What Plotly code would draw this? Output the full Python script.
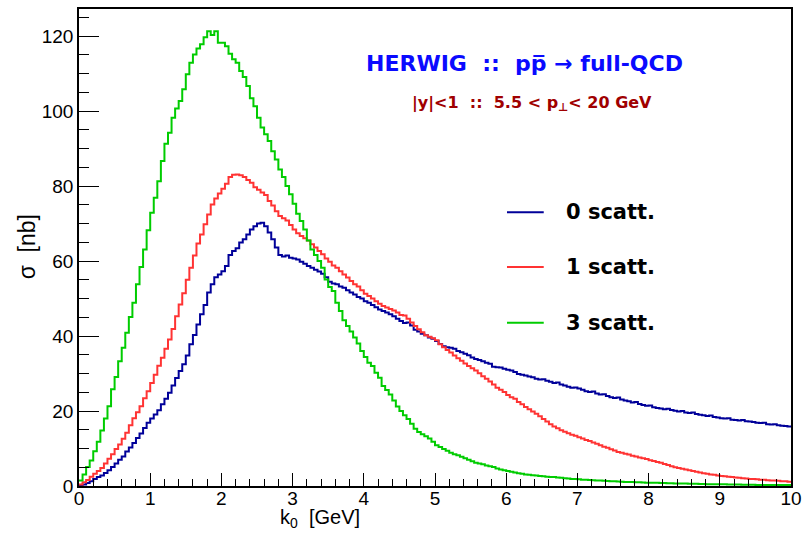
import numpy as np
import plotly.graph_objects as go

# ---------------- data ----------------
X_MIN, X_MAX, N_BINS = 0.0, 10.0, 200

blue_0scatt = [
    0.2, 0.4, 0.8, 1.3, 1.9, 2.4, 2.8, 3.5, 4.2, 5.1,
    6.0, 7.0, 7.9, 9.2, 10.3, 11.5, 12.8, 14.0, 15.5, 16.9,
    18.0, 19.1, 20.2, 21.8, 23.3, 24.9, 26.8, 28.8, 30.7, 32.5,
    34.8, 37.8, 40.3, 43.1, 45.8, 48.3, 51.6, 53.8, 55.7, 56.4,
    57.3, 58.7, 61.6, 62.7,
    63.4, 64.9, 65.8, 67.1, 68.4, 69.3, 70.0, 70.2, 69.3, 67.6,
    65.8, 63.6, 61.6, 61.2, 61.5, 60.9, 60.7, 60.4, 59.8, 59.3,
    58.7, 58.2, 57.7, 57.2, 56.6, 55.7, 54.5, 54.0, 53.8, 53.2,
    52.9, 52.2, 51.6, 51.1, 50.4, 50.0, 49.3, 48.9, 48.3, 47.7,
    47.1, 46.7,
    46.3, 45.8, 45.3, 44.6, 44.0, 43.5, 43.6, 42.8, 41.7, 41.2,
    40.6, 40.2, 39.6, 39.3, 38.7, 37.9, 37.3, 37.0, 36.9, 36.6,
    36.0, 35.7, 35.3, 34.9, 34.3, 33.9, 33.6, 33.3, 32.9, 32.6,
    31.8, 31.7, 31.6, 31.3, 31.0, 30.8, 30.4, 29.9, 29.7, 29.5,
    29.2, 29.0, 28.6,
    28.4, 28.5, 28.1, 27.8, 27.5, 27.6, 27.1, 26.8, 26.5, 26.2,
    26.3, 26.0, 25.7, 25.3, 25.1, 25.2, 24.7, 24.4, 24.5, 24.0,
    23.7, 23.5, 23.6, 23.1, 22.8, 22.6, 22.3, 22.4, 21.9, 21.6,
    21.4, 21.5, 21.0,
    20.8, 20.7, 20.5, 20.6, 20.3, 20.1, 19.9, 20.0, 19.6, 19.5,
    19.6, 19.2, 19.0, 18.9, 18.7, 18.8, 18.4, 18.3, 18.1, 18.0,
    18.1, 17.7, 17.6, 17.5, 17.6, 17.3, 17.2, 17.1, 16.9, 16.8,
    16.9, 16.5, 16.4, 16.5, 16.2, 16.1, 16.0, 15.9,
]

red_1scatt = [
    0.4, 1.0, 1.6, 2.5, 3.3, 4.0, 4.8, 6.0, 7.3, 8.5,
    9.9, 11.1, 12.6, 14.2, 16.2, 18.1, 19.7, 21.3, 23.4, 25.3,
    27.5, 29.7, 32.1, 34.2, 36.6, 39.1, 41.9, 45.3, 48.4, 51.4,
    55.0, 58.2, 61.5, 64.7, 67.1, 69.8, 72.4, 75.1, 76.7, 78.0,
    79.3, 80.6, 82.4, 83.0,
    83.1, 82.9, 82.4, 81.6, 80.9, 79.7, 79.0, 78.3, 77.6, 76.0,
    74.8, 73.3, 72.0, 71.4, 70.8, 69.6, 68.4, 67.4, 66.7, 66.1,
    65.5, 64.5, 63.6, 62.7, 61.8, 60.7, 59.8, 58.8, 58.2, 57.3,
    56.4, 55.6, 54.7, 53.8, 53.2, 52.2, 51.3, 50.7, 50.0, 49.3,
    48.6, 48.0,
    47.6, 47.2, 46.8, 46.3, 45.6, 45.5, 44.6, 43.6, 42.7, 41.8,
    41.0, 40.2, 39.8, 39.4, 38.9, 37.8, 37.0, 36.3, 35.6, 34.8,
    34.1, 33.4, 32.7, 32.0, 31.4, 30.8, 30.1, 29.3, 28.6, 27.9,
    27.1, 26.2, 25.7, 25.1, 24.3, 23.7, 23.3, 22.4, 21.8, 21.1,
    20.5, 19.9, 19.3,
    18.6, 17.9, 17.2, 16.5, 15.9, 15.4, 14.9, 14.5, 14.1, 13.7,
    13.4, 13.0, 12.7, 12.3, 12.0, 11.6, 11.3, 10.9, 10.5, 10.2,
    9.8, 9.5, 9.1, 8.9, 8.6, 8.4, 8.1, 7.9, 7.6, 7.4,
    7.2, 6.9, 6.7,
    6.4, 6.2, 5.9, 5.6, 5.3, 5.0, 4.8, 4.6, 4.4, 4.2,
    4.0, 3.8, 3.6, 3.4, 3.3, 3.1, 3.0, 2.8, 2.7, 2.6,
    2.5, 2.4, 2.3, 2.2, 2.1, 2.0, 1.9, 1.85, 1.8, 1.7,
    1.65, 1.55, 1.5, 1.45, 1.4, 1.3, 1.25, 1.15,
]

green_3scatt = [
    1.5, 3.1, 5.1, 6.8, 9.3, 11.8, 14.8, 18.0, 21.3, 25.8,
    29.1, 33.3, 36.9, 40.9, 45.1, 48.9, 53.8, 58.4, 63.1, 68.2,
    72.9, 76.9, 81.3, 86.7, 91.3, 94.2, 98.2, 100.7, 102.7, 105.8,
    109.8, 112.9, 115.1, 116.7, 117.8, 119.7, 121.3, 120.3, 121.3, 118.2,
    118.2, 117.3, 115.3, 113.8,
    112.9, 110.7, 109.1, 106.7, 103.4, 101.3, 98.2, 95.6, 93.8, 92.0,
    89.3, 87.1, 84.4, 82.4, 80.0, 77.8, 75.3, 72.6, 70.7, 68.4,
    65.5, 63.1, 61.6, 60.0, 58.2, 55.1, 53.1, 52.0, 48.9, 46.7,
    44.2, 42.7, 41.2, 39.6, 38.0, 36.0, 34.4, 32.9, 32.0, 30.2,
    28.9, 26.7,
    25.6, 24.4, 22.8, 21.2, 20.0, 18.9, 17.9, 16.6, 15.3, 14.4,
    13.8, 13.3, 12.7, 11.8, 10.9, 10.4, 9.9, 9.4, 8.9, 8.5,
    8.2, 7.8, 7.4, 7.0, 6.6, 6.2, 6.0, 5.8, 5.5, 5.3,
    5.1, 4.7, 4.4, 4.2, 4.0, 3.8, 3.6, 3.4, 3.3, 3.1,
    3.0, 2.9, 2.8,
    2.7, 2.6, 2.5, 2.4, 2.4, 2.3, 2.2, 2.1, 2.0, 1.9,
    1.9, 1.8, 1.7, 1.7, 1.6, 1.55, 1.5, 1.45, 1.4, 1.35,
    1.3, 1.25, 1.2, 1.15, 1.1, 1.1, 1.05, 1.0, 1.0, 0.95,
    0.9,
    0.9, 0.85, 0.85, 0.8, 0.8, 0.75, 0.75, 0.7, 0.7, 0.65,
    0.65, 0.6, 0.6, 0.6, 0.55, 0.55, 0.5, 0.5, 0.5, 0.45,
    0.45, 0.45, 0.4, 0.4, 0.4, 0.4, 0.35, 0.35, 0.35, 0.35,
    0.3, 0.3, 0.3, 0.3, 0.3, 0.3, 0.25, 0.25, 0.25, 0.25,
]

series_names = ["0 scatt.", "1 scatt.", "3 scatt."]
x_tick_values = list(range(0, 11))
y_tick_values = [0, 20, 40, 60, 80, 100, 120]

for s in (blue_0scatt, red_1scatt, green_3scatt):
    assert len(s) == N_BINS, len(s)

# ---------------- styling ----------------
FONT = "Liberation Sans, Arial, Helvetica, sans-serif"
WIDE = "DejaVu Sans, Liberation Sans, sans-serif"
COLORS = ["#000099", "#ff3333", "#00cc00"]
bin_edges = np.linspace(X_MIN, X_MAX, N_BINS + 1)

fig = go.Figure()
for name, vals, col in zip(series_names, [blue_0scatt, red_1scatt, green_3scatt], COLORS):
    fig.add_trace(go.Scatter(
        x=bin_edges, y=list(vals) + [vals[-1]],
        mode="lines", name=name,
        line=dict(shape="hv", color=col, width=2),
        showlegend=False, hoverinfo="skip",
    ))

L, R, T, B = 79, 13, 7, 52
W, H = 809, 538
pw, ph = W - L - R, H - T - B


def px(xp):
    return (xp - L) / pw


def py(yp):
    return (T + ph - yp) / ph


fig.update_layout(
    width=W, height=H,
    margin=dict(l=L, r=R, t=T, b=B, pad=0),
    paper_bgcolor="white", plot_bgcolor="white",
    font=dict(family=FONT, color="black"),
    xaxis=dict(
        range=[X_MIN, X_MAX], tickvals=x_tick_values,
        ticks="inside", ticklen=13, tickwidth=1, tickcolor="black",
        minor=dict(ticks="inside", ticklen=7, dtick=0.2, tickcolor="black", tickwidth=1, showgrid=False),
        showline=True, linecolor="black", linewidth=1.5, mirror=True,
        showgrid=False, zeroline=False, ticklabelstandoff=-6,
        tickfont=dict(size=19, family=FONT, color="black"),
    ),
    yaxis=dict(
        range=[0, 127.2], tickvals=y_tick_values,
        ticks="inside", ticklen=20, tickwidth=1, tickcolor="black",
        minor=dict(ticks="inside", ticklen=10, dtick=5, tickcolor="black", tickwidth=1, showgrid=False),
        showline=True, linecolor="black", linewidth=1.5, mirror=True,
        showgrid=False, zeroline=False,
        tickfont=dict(size=19, family=FONT, color="black"),
    ),
)

NB = "\u00a0"
ann = []
# title lines
ann.append(dict(text="<b>HERWIG" + NB * 2 + "::" + NB * 2 + "pp\u0305 \u2192 full-QCD</b>",
                x=px(528), y=py(62), xref="paper", yref="paper",
                showarrow=False, xanchor="center", yanchor="middle",
                font=dict(size=22, color="#0a0aff", family=WIDE)))
ann.append(dict(text="<b>|y|&lt;1" + NB * 2 + "::" + NB * 2 + "5.5 &lt; p<sub>\u22a5</sub>&lt; 20 GeV</b>",
                x=px(535), y=py(102), xref="paper", yref="paper",
                showarrow=False, xanchor="center", yanchor="middle",
                font=dict(size=16, color="#a00000", family=WIDE)))
# axis titles
ann.append(dict(text="k<sub>0</sub>" + NB + " [GeV]",
                x=px(322), y=py(519), xref="paper", yref="paper",
                showarrow=False, xanchor="center", yanchor="middle",
                font=dict(size=20, color="black", family=FONT)))
ann.append(dict(text="\u03c3" + NB * 2 + "[nb]", textangle=-90,
                x=px(27), y=py(246), xref="paper", yref="paper",
                showarrow=False, xanchor="center", yanchor="middle",
                font=dict(size=23, color="black", family=FONT)))

# legend (manual, ROOT-style)
shapes = []
leg_y = [211, 266, 322]
for name, col, yy in zip(series_names, COLORS, leg_y):
    shapes.append(dict(type="line", xref="paper", yref="paper",
                       x0=px(510), x1=px(547), y0=py(yy), y1=py(yy),
                       line=dict(color=col, width=2)))
    ann.append(dict(text="<b>%s</b>" % name, x=px(567), y=py(yy),
                    xref="paper", yref="paper", showarrow=False,
                    xanchor="left", yanchor="middle",
                    font=dict(size=21, color="black", family=WIDE)))

fig.update_layout(annotations=ann, shapes=shapes)
fig.write_html("out.html")
